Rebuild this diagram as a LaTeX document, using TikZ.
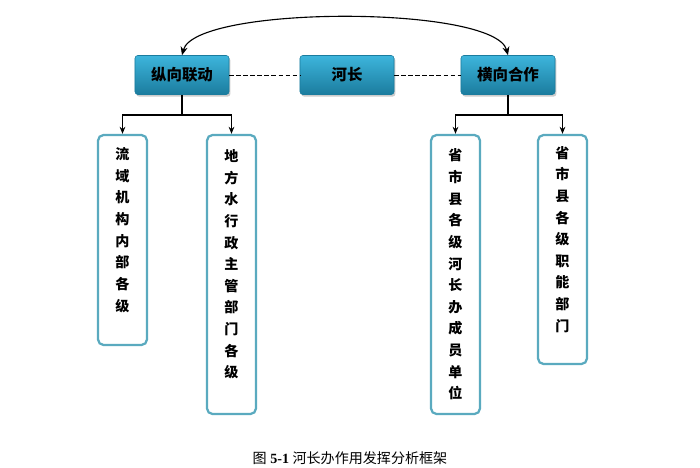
\documentclass[tikz,border=0pt]{standalone}
\usepackage{fontspec}
\setmainfont{Liberation Serif}
\newfontfamily\cjk{Noto Sans CJK SC}
\usetikzlibrary{shadows,arrows.meta}
\definecolor{boxtop}{HTML}{3DB5DC}
\definecolor{boxbot}{HTML}{1B7C9E}
\definecolor{colborder}{HTML}{5AAABF}
\begin{document}
\begin{tikzpicture}[x=0.025cm, y=-0.025cm,
        head/.style={rectangle, rounded corners=2pt, draw=boxbot, top color=boxtop, bottom color=boxbot,
            drop shadow={shadow xshift=1pt, shadow yshift=-1.5pt, opacity=0.4},
            minimum width=2.35cm, minimum height=0.975cm, font=\cjk\bfseries\fontsize{11}{13}\selectfont},
        column/.style={rectangle, rounded corners=4pt, draw=colborder, line width=1.6pt, fill=white,
            minimum width=1.225cm, align=center, font=\cjk\bfseries\fontsize{10}{15.4}\selectfont},
        arrow/.style={-{Stealth[length=5pt,width=4pt]}, thick}
    ]
        \useasboundingbox (0,0) rectangle (700,468);

        % Top row
        \node[head] (vert) at (182,75) {纵向联动};
        \node[head] (chief) at (347,75) {河长};
        \node[head] (horiz) at (508,75) {横向合作};
        \draw[densely dashed] (vert) -- (chief);
        \draw[densely dashed] (chief) -- (horiz);
        \draw[{Stealth[length=6pt,width=5pt]}-{Stealth[length=6pt,width=5pt]}, thick]
            (vert.north) .. controls (195,5) and (495,5) .. (horiz.north);

        % Columns
        \node[column, minimum height=5.25cm] (basin) at (122.5,240) {流\\域\\机\\构\\内\\部\\各\\级\\\rule{0pt}{8pt}};
        \node[column, minimum height=6.975cm] (water) at (231.5,274.5) {地\\方\\水\\行\\政\\主\\管\\部\\门\\各\\级\\\rule{0pt}{8pt}};
        \node[column, minimum height=6.975cm] (office) at (455.5,274.5) {省\\市\\县\\各\\级\\河\\长\\办\\成\\员\\单\\位};
        \node[column, minimum height=5.725cm] (dept) at (562.5,249.5) {省\\市\\县\\各\\级\\职\\能\\部\\门\\\rule{0pt}{8pt}};

        % Branches
        \coordinate (vsplit) at (182,115);
        \coordinate (hsplit) at (508,115);
        \draw[thick] (vert) -- (vsplit);
        \draw[thick] (horiz) -- (hsplit);
        \draw[arrow] (vsplit) -| (basin.north);
        \draw[arrow] (vsplit) -| (water.north);
        \draw[arrow] (hsplit) -| (office.north);
        \draw[arrow] (hsplit) -| (dept.north);

        % Caption
        \node[font=\fontsize{10}{12}\selectfont] (caption) at (350,458) {{\cjk 图} \textbf{5-1} {\cjk 河长办作用发挥分析框架}};
    \end{tikzpicture}
\end{document}
